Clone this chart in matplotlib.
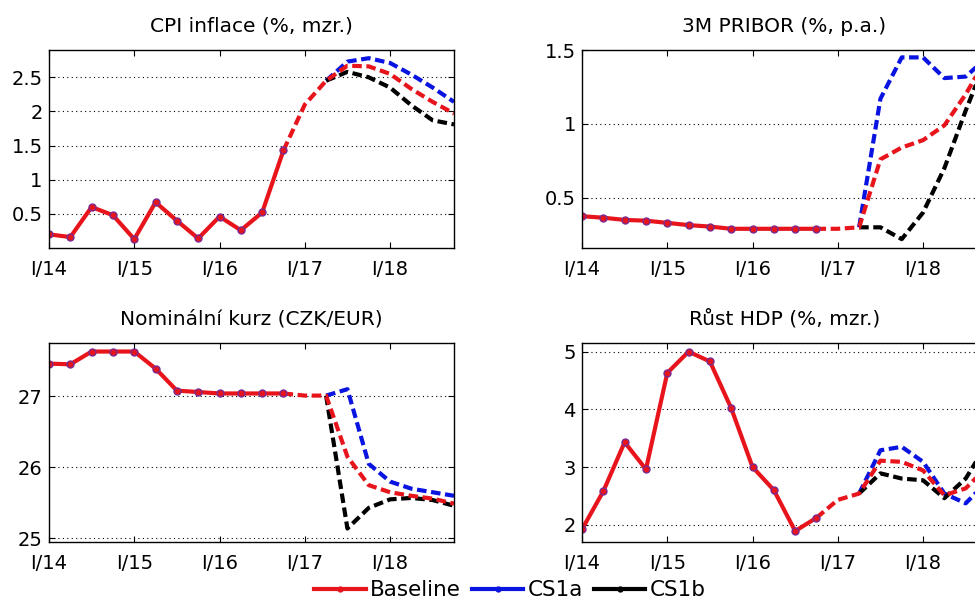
import matplotlib
matplotlib.use('Agg')
import matplotlib.pyplot as plt
from matplotlib.lines import Line2D

plt.rcParams['font.family'] = ['DejaVu Sans']

### quarters I/14 .. IV/18 (index 0..19), history to IV/16, forecast from there
tick_pos = [0, 4, 8, 12, 16]
tick_labels = ['I/14', 'I/15', 'I/16', 'I/17', 'I/18']
hist_q = list(range(0, 12))
base_q = list(range(11, 20))
scen_q = list(range(13, 20))

### CPI inflace
cpi_hist = [0.20, 0.16, 0.60, 0.48, 0.13, 0.67, 0.40, 0.14, 0.46, 0.26, 0.52, 1.43]
cpi_base = [1.43, 2.10, 2.45, 2.67, 2.66, 2.55, 2.33, 2.14, 1.97]
cpi_cs1a = [2.45, 2.73, 2.78, 2.71, 2.54, 2.35, 2.14]
cpi_cs1b = [2.45, 2.58, 2.50, 2.35, 2.09, 1.87, 1.81]

### 3M PRIBOR
pribor_hist = [0.375, 0.365, 0.35, 0.345, 0.33, 0.315, 0.305, 0.29, 0.29, 0.29, 0.29, 0.29]
pribor_base = [0.29, 0.29, 0.30, 0.76, 0.84, 0.89, 0.99, 1.20, 1.45]
pribor_cs1a = [0.30, 1.17, 1.45, 1.45, 1.31, 1.32, 1.45]
pribor_cs1b = [0.30, 0.30, 0.22, 0.40, 0.70, 1.09, 1.45]

### Nominalni kurz
fx_hist = [27.46, 27.45, 27.63, 27.63, 27.63, 27.39, 27.08, 27.06, 27.04, 27.04, 27.04, 27.04]
fx_base = [27.04, 27.01, 27.01, 26.15, 25.75, 25.65, 25.60, 25.56, 25.49]
fx_cs1a = [27.01, 27.10, 26.05, 25.80, 25.70, 25.65, 25.60]
fx_cs1b = [27.01, 25.14, 25.43, 25.55, 25.57, 25.54, 25.46]

### Rust HDP
gdp_hist = [1.92, 2.58, 3.43, 2.96, 4.63, 5.00, 4.83, 4.02, 3.00, 2.60, 1.89, 2.12]
gdp_base = [2.12, 2.43, 2.54, 3.11, 3.09, 2.94, 2.51, 2.63, 3.00]
gdp_cs1a = [2.54, 3.29, 3.35, 3.09, 2.54, 2.37, 2.75]
gdp_cs1b = [2.54, 2.89, 2.80, 2.77, 2.46, 2.80, 3.40]

RED = '#e8141c'
BLUE = '#0a14e0'
BLACK = '#000000'

panels = [
    ('CPI inflace (%, mzr.)', cpi_hist, cpi_base, cpi_cs1a, cpi_cs1b,
     (0.0, 2.9), [0.5, 1, 1.5, 2, 2.5], ['0.5', '1', '1.5', '2', '2.5']),
    ('3M PRIBOR (%, p.a.)', pribor_hist, pribor_base, pribor_cs1a, pribor_cs1b,
     (0.16, 1.5), [0.5, 1, 1.5], ['0.5', '1', '1.5']),
    ('Nominální kurz (CZK/EUR)', fx_hist, fx_base, fx_cs1a, fx_cs1b,
     (24.95, 27.75), [25, 26, 27], ['25', '26', '27']),
    ('Růst HDP (%, mzr.)', gdp_hist, gdp_base, gdp_cs1a, gdp_cs1b,
     (1.7, 5.15), [2, 3, 4, 5], ['2', '3', '4', '5']),
]

W, H = 975, 601
fig = plt.figure(figsize=(W / 100, H / 100), dpi=100)

# axes boxes in pixels: left, top, right, bottom (right column runs past the edge)
boxes = [(49, 50, 454, 248), (582, 50, 987, 248),
         (49, 343, 454, 542), (582, 343, 987, 542)]

dash = (2.3, 1.1)
for (title, hist, base, cs1a, cs1b, ylim, yt, ytl), (l, t, r, b) in zip(panels, boxes):
    ax = fig.add_axes([l / W, 1 - b / H, (r - l) / W, (b - t) / H])
    ax.plot(scen_q, cs1a, color=BLUE, lw=3, dashes=dash)
    ax.plot(scen_q, cs1b, color=BLACK, lw=3, dashes=dash)
    ax.plot(base_q, base, color=RED, lw=3, dashes=dash)
    ax.plot(hist_q, hist, color=RED, lw=3, marker='o', ms=5,
            mfc=RED, mec='#7a2a90', mew=1.0)
    ax.set_xlim(0, 19)
    ax.set_ylim(*ylim)
    ax.set_xticks(tick_pos)
    ax.set_xticklabels(tick_labels)
    ax.set_yticks(yt)
    ax.set_yticklabels(ytl)
    ax.yaxis.grid(True, color='k', lw=0.8, linestyle=(0, (1, 3)))
    ax.tick_params(direction='in', top=True, right=True, length=4,
                   labelsize=14, width=0.8)
    ax.tick_params(axis='x', pad=8.5)
    ax.tick_params(axis='y', pad=4.5)
    for s in ax.spines.values():
        s.set_linewidth(1.0)
    ax.set_title(title, fontsize=14.5, pad=13)

handles = [Line2D([], [], color=c, lw=3, marker='o', ms=3.5) for c in (RED, BLUE, BLACK)]
fig.legend(handles, ['Baseline', 'CS1a', 'CS1b'], loc='center',
           bbox_to_anchor=(0.523, 0.018), ncol=3, frameon=False, fontsize=15.5,
           handlelength=2.4, handletextpad=0.2, columnspacing=0.5,
           borderaxespad=0, borderpad=0)

fig.savefig('out.png', dpi=100)
